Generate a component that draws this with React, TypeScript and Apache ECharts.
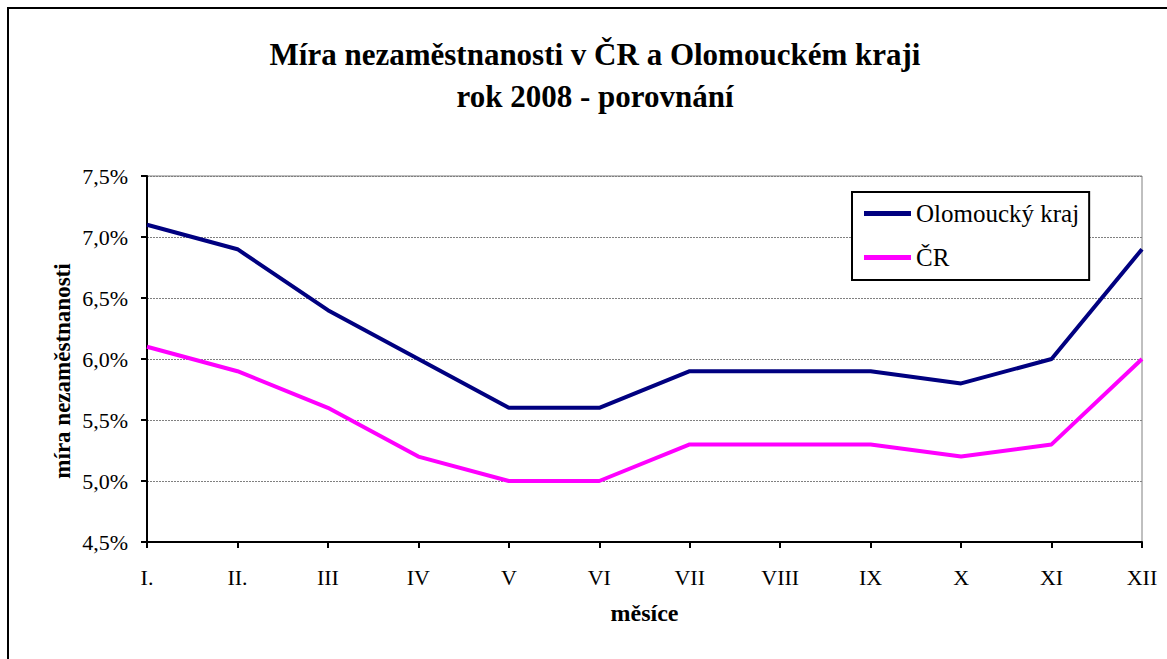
import React, { useEffect, useRef } from "react";
import * as echarts from "echarts";

const months = ["I.", "II.", "III", "IV", "V", "VI", "VII", "VIII", "IX", "X", "XI", "XII"];
const olomoucky = [7.1, 6.9, 6.4, 6.0, 5.6, 5.6, 5.9, 5.9, 5.9, 5.8, 6.0, 6.9];
const cr = [6.1, 5.9, 5.6, 5.2, 5.0, 5.0, 5.3, 5.3, 5.3, 5.2, 5.3, 6.0];
const seriesNames = ["Olomoucký kraj", "ČR"];
const titleText = "Míra nezaměstnanosti v ČR a Olomouckém kraji\nrok 2008 - porovnání";
const yAxisName = "míra nezaměstnanosti";
const xAxisName = "měsíce";

const FONT = "Liberation Serif";

export default function App() {
  const ref = useRef<HTMLDivElement>(null);
  useEffect(() => {
    if (!ref.current) return;
    const chart = echarts.init(ref.current, null, { renderer: "svg" });
    chart.setOption({
      animation: false,
      backgroundColor: "#ffffff",
      textStyle: { fontFamily: FONT },
      title: {
        text: titleText,
        left: 590,
        top: 28,
        textAlign: "center",
        textStyle: {
          fontFamily: FONT,
          fontWeight: "bold",
          fontSize: 31,
          lineHeight: 42,
          color: "#000",
        },
      },
      graphic: [
        {
          type: "rect",
          shape: { x: 8, y: 8, width: 1300, height: 800 },
          style: { fill: "none", stroke: "#000", lineWidth: 2 },
          silent: true,
          z: 100,
        },
        {
          type: "text",
          x: 62,
          y: 371,
          rotation: Math.PI / 2,
          style: {
            text: yAxisName,
            fontFamily: FONT,
            fontWeight: "bold",
            fontSize: 23,
            fill: "#000",
            align: "center",
            verticalAlign: "middle",
          },
          silent: true,
        },
      ],
      legend: {
        data: seriesNames,
        orient: "vertical",
        left: 852,
        top: 192,
        backgroundColor: "#fff",
        borderColor: "#000",
        borderWidth: 2,
        borderRadius: 0,
        padding: [9, 10, 10, 12],
        itemGap: 19,
        itemWidth: 47,
        itemHeight: 5,
        icon: "rect",
        textStyle: { fontFamily: FONT, fontSize: 25, color: "#000" },
      },
      grid: {
        left: 147,
        right: 25,
        top: 176,
        bottom: 117,
        show: true,
        borderColor: "#808080",
        borderWidth: 1,
        backgroundColor: "#fff",
      },
      xAxis: {
        type: "category",
        data: months,
        boundaryGap: false,
        name: xAxisName,
        nameLocation: "middle",
        nameGap: 59,
        nameTextStyle: { fontFamily: FONT, fontWeight: "bold", fontSize: 24, color: "#000" },
        axisLine: { lineStyle: { color: "#000", width: 2 } },
        axisTick: { show: true, length: 6, lineStyle: { color: "#000", width: 2 } },
        axisLabel: { fontFamily: FONT, fontSize: 22, color: "#000", margin: 24 },
        splitLine: { show: false },
      },
      yAxis: {
        type: "value",
        min: 4.5,
        max: 7.5,
        interval: 0.5,
        axisLine: { show: true, lineStyle: { color: "#000", width: 2 } },
        axisTick: { show: true, length: 6, lineStyle: { color: "#000", width: 2 } },
        axisLabel: {
          fontFamily: FONT,
          fontSize: 22,
          color: "#000",
          margin: 19,
          formatter: (v: number) => v.toFixed(1).replace(".", ",") + "%",
        },
        splitLine: { show: true, lineStyle: { color: "#808080", width: 1, type: [2, 1] } },
      },
      series: [
        {
          name: seriesNames[0],
          type: "line",
          data: olomoucky,
          symbol: "none",
          lineStyle: { color: "#000080", width: 4 },
          itemStyle: { color: "#000080" },
        },
        {
          name: seriesNames[1],
          type: "line",
          data: cr,
          symbol: "none",
          lineStyle: { color: "#FF00FF", width: 4 },
          itemStyle: { color: "#FF00FF" },
        },
      ],
    });
    return () => chart.dispose();
  }, []);
  return (
    <div
      ref={ref}
      style={{ position: "absolute", left: 0, top: 0, width: 1167, height: 659, background: "#fff" }}
    />
  );
}
